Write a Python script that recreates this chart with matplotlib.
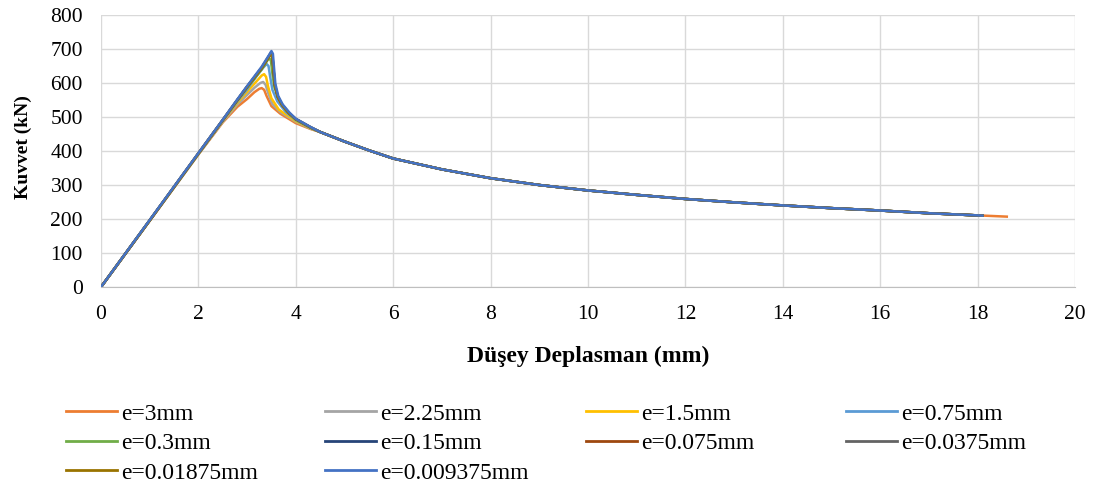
import matplotlib.pyplot as plt
from matplotlib.lines import Line2D

plt.rcParams['font.family'] = ['Liberation Serif', 'DejaVu Serif']

labels = ['e=3mm', 'e=2.25mm', 'e=1.5mm', 'e=0.75mm', 'e=0.3mm', 'e=0.15mm',
          'e=0.075mm', 'e=0.0375mm', 'e=0.01875mm', 'e=0.009375mm']
colors = ['#ED7D31', '#A5A5A5', '#FFC000', '#5B9BD5', '#70AD47', '#264478',
          '#9E480E', '#636363', '#997300', '#4472C4']

# rising branch, peak and drop for each series (displacement mm, force kN)
head_x = [
    [0, 1, 2, 2.5, 2.8, 3.0, 3.15, 3.25, 3.3, 3.35, 3.4, 3.5, 3.68, 4.0, 4.3],
    [0, 1, 2, 2.5, 2.8, 3.0, 3.15, 3.27, 3.33, 3.38, 3.43, 3.52, 3.68, 4.0, 4.3],
    [0, 1, 2, 2.5, 2.8, 3.0, 3.2, 3.3, 3.35, 3.39, 3.43, 3.5, 3.65, 4.0, 4.3],
    [0, 1, 2, 2.5, 2.8, 3.0, 3.2, 3.33, 3.4, 3.44, 3.47, 3.52, 3.62, 3.8, 4.0, 4.3],
    [0, 1, 2, 2.5, 2.8, 3.0, 3.3, 3.42, 3.46, 3.49, 3.52, 3.56, 3.65, 3.8, 4.0, 4.3],
    [0, 1, 2, 2.5, 2.8, 3.0, 3.3, 3.44, 3.49, 3.52, 3.54, 3.57, 3.63, 3.72, 3.86, 4.0, 4.3],
    [0, 1, 2, 2.5, 2.8, 3.0, 3.3, 3.44, 3.49, 3.52, 3.54, 3.57, 3.63, 3.72, 3.86, 4.0, 4.3],
    [0, 1, 2, 2.5, 2.8, 3.0, 3.3, 3.44, 3.49, 3.52, 3.54, 3.57, 3.63, 3.72, 3.86, 4.0, 4.3],
    [0, 1, 2, 2.5, 2.8, 3.0, 3.3, 3.44, 3.49, 3.52, 3.54, 3.57, 3.63, 3.72, 3.86, 4.0, 4.3],
    [0, 1, 2, 2.5, 2.8, 3.0, 3.3, 3.45, 3.5, 3.53, 3.55, 3.58, 3.64, 3.73, 3.87, 4.0, 4.3],
]
head_y = [
    [0, 195, 390, 484, 530, 553, 573, 583, 585, 580, 562, 532, 510, 482, 465],
    [0, 195, 390, 486, 537, 565, 586, 600, 603, 595, 572, 538, 515, 486, 466],
    [0, 195, 391, 488, 542, 574, 606, 622, 626, 618, 590, 555, 522, 488, 467],
    [0, 196, 392, 489, 546, 581, 621, 645, 656, 650, 622, 580, 546, 514, 491, 468],
    [0, 196, 392, 490, 549, 586, 640, 667, 673, 665, 628, 588, 553, 520, 492, 469],
    [0, 196, 393, 491, 550, 589, 645, 677, 688, 680, 645, 595, 560, 536, 512, 494, 470],
    [0, 196, 393, 491, 550, 589, 644, 675, 685, 677, 642, 594, 559, 535, 511, 494, 470],
    [0, 196, 393, 491, 550, 589, 645, 678, 690, 682, 646, 596, 560, 536, 512, 494, 470],
    [0, 196, 393, 491, 550, 589, 644, 676, 686, 678, 643, 594, 559, 535, 511, 494, 470],
    [0, 197, 394, 492, 552, 591, 648, 682, 694, 686, 650, 598, 562, 537, 513, 495, 471],
]

# common softening branch after the peak
tail_x = [4.5, 5, 5.5, 6, 7, 8, 9, 10, 11, 12, 13, 14, 15, 16, 17]
tail_y = [456, 428, 402, 378, 346, 320, 300, 284, 271, 259, 249, 240, 232, 225, 217]
end_x = [18.6, 18.1, 18.1, 18.1, 18.1, 18.1, 18.1, 18.1, 18.1, 18.1]
end_y = [207, 210, 210, 210, 210, 210, 210, 210, 210, 210]

fig = plt.figure(figsize=(10.93, 4.97), dpi=100)
ax = fig.add_axes([0.0924, 0.4225, 0.8911, 0.5473])

for i in range(len(labels)):
    xs = head_x[i] + tail_x + [end_x[i]]
    ys = head_y[i] + tail_y + [end_y[i]]
    ax.plot(xs, ys, color=colors[i], lw=1.8, label=labels[i])

ax.set_xlim(0, 20)
ax.set_ylim(0, 800)
ax.set_xticks(range(0, 21, 2))
ax.set_yticks(range(0, 801, 100))
ax.grid(True, color='#D9D9D9', lw=1)
ax.set_axisbelow(True)
for s in ['top', 'right', 'left']:
    ax.spines[s].set_visible(False)
ax.spines['bottom'].set_color('#BFBFBF')
ax.tick_params(length=0, labelsize=15.5)
ax.tick_params(axis='y', pad=13)
ax.tick_params(axis='x', pad=13)
ax.set_xlabel('Düşey Deplasman (mm)', fontsize=17, fontweight='bold', labelpad=16)
ax.set_ylabel('Kuvvet (kN)', fontsize=14, fontweight='bold')
ax.yaxis.set_label_coords(-0.0708, 0.515)

# legend in four columns, row-wise order like the original
handles = [Line2D([], [], color=c, lw=2.0) for c in colors]
cols = [[0, 4, 8], [1, 5, 9], [2, 6], [3, 7]]
col_x = [0.0604, 0.2973, 0.536, 0.774]
for cx, idx in zip(col_x, cols):
    fig.legend([handles[k] for k in idx], [labels[k] for k in idx],
               loc='upper left', bbox_to_anchor=(cx, 0.189), frameon=False,
               fontsize=17, handlelength=2.15, handletextpad=0.2,
               labelspacing=0.34, borderaxespad=0, borderpad=0)

fig.savefig('out.png', dpi=100)
